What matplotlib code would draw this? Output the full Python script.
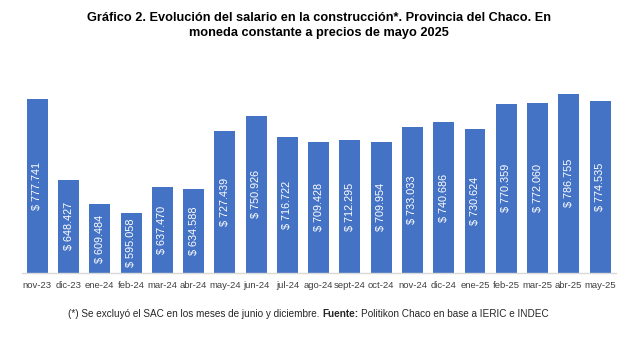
import matplotlib.pyplot as plt
from matplotlib import font_manager

# Salario en la construcción, Chaco, a precios de mayo 2025
meses = ["nov-23", "dic-23", "ene-24", "feb-24", "mar-24", "abr-24", "may-24",
         "jun-24", "jul-24", "ago-24", "sept-24", "oct-24", "nov-24", "dic-24",
         "ene-25", "feb-25", "mar-25", "abr-25", "may-25"]
salario = [777741, 648427, 609484, 595058, 637470, 634588, 727439,
           750926, 716722, 709428, 712295, 709954, 733033, 740686,
           730624, 770359, 772060, 786755, 774535]

names = {f.name for f in font_manager.fontManager.ttflist}
narrow = "Liberation Sans Narrow" if "Liberation Sans Narrow" in names else "Liberation Sans"
plt.rcParams["font.family"] = ["Liberation Sans", "DejaVu Sans"]


def fmt_pesos(v):
    return "$ " + f"{v:,}".replace(",", ".")


fig = plt.figure(figsize=(6.38, 3.40), dpi=100)
ax = fig.add_axes([0.034, 0.198, 0.931, 0.551])

x = range(len(meses))
ax.bar(x, salario, width=0.67, color="#4472C4", zorder=2)

base = 500000
ax.set_ylim(base, 800000)
ax.set_xlim(-0.5, len(meses) - 0.5)

for xi, v in zip(x, salario):
    ax.text(xi, (base + v) / 2, fmt_pesos(v), rotation=90, ha="center",
            va="center", color="white", fontsize=7.8)

ax.set_xticks(list(x))
ax.set_xticklabels(meses, fontsize=6.8, color="#404040")
ax.tick_params(axis="x", length=0, pad=6)
ax.set_yticks([])
for side in ["top", "left", "right"]:
    ax.spines[side].set_visible(False)
ax.spines["bottom"].set_color("#D9D9D9")
ax.spines["bottom"].set_linewidth(1)

fig.text(0.5, 0.925, "Gráfico 2. Evolución del salario en la construcción*. Provincia del Chaco. En\n"
         "moneda constante a precios de mayo 2025",
         ha="center", va="center", fontsize=9.2, fontweight="bold",
         family=[narrow, "DejaVu Sans"], linespacing=1.4)

# Source line in three pieces so "Fuente:" can be bold
parts = [("(*) Se excluyó el SAC en los meses de junio y diciembre.", "normal"),
         ("Fuente:", "bold"),
         ("Politikon Chaco en base a IERIC e INDEC", "normal")]
objs = [fig.text(0, 0.076, s, ha="left", va="center", fontsize=7.2,
                 fontweight=wgt, family=[narrow, "DejaVu Sans"], color="#262626")
        for s, wgt in parts]
fig.canvas.draw()
renderer = fig.canvas.get_renderer()
widths = [t.get_window_extent(renderer).width for t in objs]
gap = 2.5
total = sum(widths) + gap * (len(objs) - 1)
x0 = 0.483 * fig.bbox.width - total / 2
for t, w in zip(objs, widths):
    t.set_x(x0 / fig.bbox.width)
    x0 += w + gap

fig.savefig("out.png", dpi=100)
